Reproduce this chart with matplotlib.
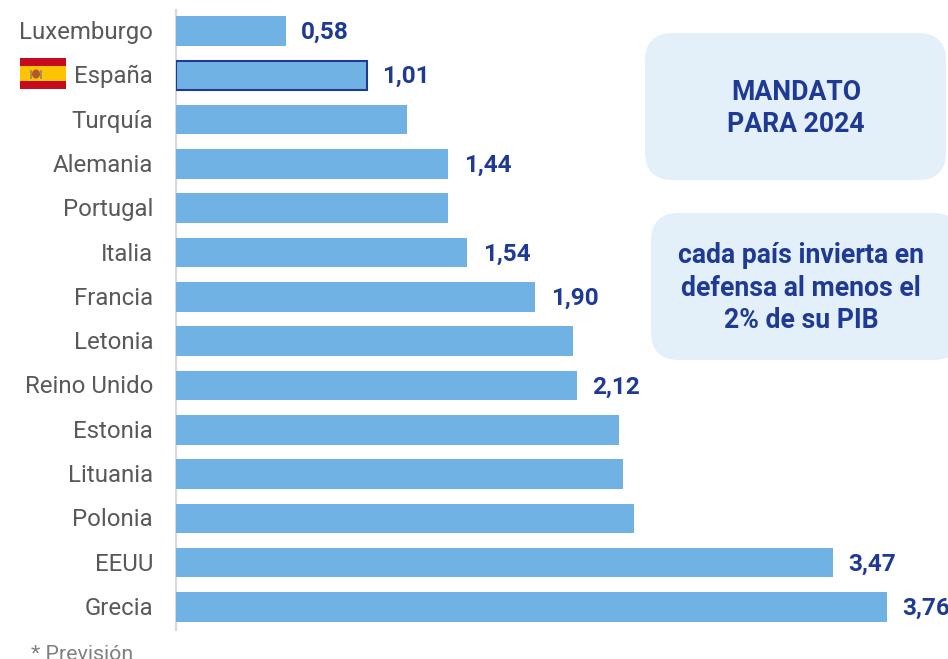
import matplotlib
matplotlib.use("Agg")
import matplotlib.pyplot as plt
from matplotlib.patches import FancyBboxPatch, Rectangle, Ellipse
from matplotlib.transforms import ScaledTranslation

plt.rcParams['font.family'] = ['Roboto', 'DejaVu Sans']

# datos del grafico
paises = ["Luxemburgo", "España", "Turquía", "Alemania", "Portugal", "Italia", "Francia",
          "Letonia", "Reino Unido", "Estonia", "Lituania", "Polonia", "EEUU", "Grecia"]
valores = [0.58, 1.01, 1.22, 1.44, 1.44, 1.54, 1.90, 2.10, 2.12, 2.34, 2.36, 2.42, 3.47, 3.76]
# solo algunos paises llevan la etiqueta del valor
etiquetas = ["0,58", "1,01", "", "1,44", "", "1,54", "1,90", "", "2,12", "", "", "", "3,47", "3,76"]

AZUL = "#70b2e3"
MARINO = "#1f3a93"
GRIS = "#595959"
FONDO = "#e3eff9"

W, H = 948, 659
fig = plt.figure(figsize=(W / 100, H / 100), dpi=100, facecolor="white")

# eje principal, los limites salen de la posicion en pixeles
ax = fig.add_axes([176 / W, 1 - 630 / H, (W - 176) / W, 620 / H])
ax.set_xlim(0, (W - 176) / 189.2)
ax.set_ylim(13.52, -0.474)
ax.set_facecolor("none")

for i, (v, et) in enumerate(zip(valores, etiquetas)):
    if paises[i] == "España":
        ax.barh(i, v, height=0.66, color=AZUL, edgecolor=MARINO, linewidth=1.5, zorder=3)
    else:
        ax.barh(i, v, height=0.67, color=AZUL, linewidth=0, zorder=3)
    if et:
        ax.annotate(et, (v, i), xytext=(11, -1), textcoords="offset points", va="center", ha="left",
                    fontsize=17.6, fontweight="bold", color=MARINO, annotation_clip=False)

ax.set_yticks(range(len(paises)))
ax.set_yticklabels(paises, fontsize=17.3, color=GRIS)
ax.tick_params(axis="y", length=0, pad=16.5)
# subir un pixel las etiquetas de los paises
subir = ScaledTranslation(0, 1 / 100, fig.dpi_scale_trans)
for lab in ax.get_yticklabels():
    lab.set_transform(lab.get_transform() + subir)
ax.set_xticks([])
for s in ["top", "right", "bottom"]:
    ax.spines[s].set_visible(False)
ax.spines["left"].set_color("#d9d9d9")
ax.spines["left"].set_linewidth(1.6)

# capa en pixeles para cajas, bandera y nota
capa = fig.add_axes([0, 0, 1, 1], zorder=5)
capa.set_xlim(0, W)
capa.set_ylim(H, 0)
capa.axis("off")

capa.add_patch(FancyBboxPatch((645 + 28, 33 + 28), 301 - 56, 147 - 56,
                              boxstyle="round,pad=28,rounding_size=28", fc=FONDO, ec="none"))
capa.add_patch(FancyBboxPatch((651 + 28, 213 + 28), 310 - 56, 147 - 56,
                              boxstyle="round,pad=28,rounding_size=28", fc=FONDO, ec="none"))
capa.text(796, 108.5, "MANDATO\nPARA 2024", ha="center", va="center", fontsize=19.2,
          fontweight="bold", color=MARINO, linespacing=1.25)
capa.text(801, 288, "cada país invierta en\ndefensa al menos el\n2% de su PIB", ha="center", va="center",
          fontsize=19.2, fontweight="bold", color=MARINO, linespacing=1.25)

# bandera
capa.add_patch(Rectangle((20, 58), 46, 31, fc="#c60b1e", ec="none"))
capa.add_patch(Rectangle((20, 66), 46, 15, fc="#ffc400", ec="none"))
capa.add_patch(Ellipse((36, 74), 8, 9, fc="#b5562f", ec="none"))
capa.add_patch(Rectangle((30, 70), 2, 9, fc="#a8905a", ec="none"))
capa.add_patch(Rectangle((40, 70), 2, 9, fc="#a8905a", ec="none"))

capa.text(31, 654, "* Previsión", ha="left", va="center", fontsize=15.4, color="#808080", clip_on=False)

fig.savefig("out.png", dpi=100)
